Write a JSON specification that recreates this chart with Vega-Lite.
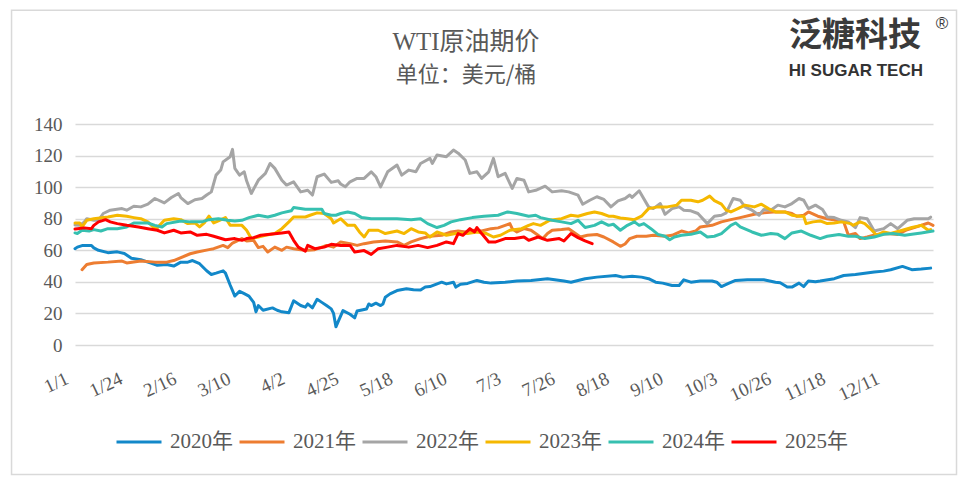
{
"$schema":"https://vega.github.io/schema/vega-lite/v6.json",
"width":858,"height":221,
"padding":{"left":10,"top":9,"right":12,"bottom":13},
"background":"white",
"config":{"view":{"stroke":null},"font":"Liberation Serif"},
"title":{"text":"WTI原油期价","subtitle":"单位：美元/桶","anchor":"middle","frame":"group","dx":-38,"offset":-76,"font":"Liberation Serif, Noto Sans CJK SC","fontSize":25,"fontWeight":"normal","color":"#595959","subtitleFont":"Noto Sans CJK SC","subtitleFontSize":22,"subtitleColor":"#595959","subtitlePadding":10},
"data":{"values":[
{"s":"2020年","d":0,"v":61},{"s":"2020年","d":1,"v":62},{"s":"2020年","d":3,"v":63},{"s":"2020年","d":7,"v":63},{"s":"2020年","d":8,"v":61.5},{"s":"2020年","d":10,"v":60},{"s":"2020年","d":14,"v":58.5},{"s":"2020年","d":18,"v":59},{"s":"2020年","d":21,"v":58},{"s":"2020年","d":24,"v":55},{"s":"2020年","d":28,"v":54},{"s":"2020年","d":32,"v":52},{"s":"2020年","d":35,"v":50.5},{"s":"2020年","d":39,"v":51},{"s":"2020年","d":42,"v":50},{"s":"2020年","d":45,"v":52.5},{"s":"2020年","d":48,"v":52.5},{"s":"2020年","d":50,"v":53.5},{"s":"2020年","d":53,"v":51.5},{"s":"2020年","d":56,"v":47},{"s":"2020年","d":58,"v":44.7},{"s":"2020年","d":60,"v":45.5},{"s":"2020年","d":63,"v":47},{"s":"2020年","d":64,"v":45.5},{"s":"2020年","d":66,"v":38},{"s":"2020年","d":68,"v":31},{"s":"2020年","d":70,"v":34},{"s":"2020年","d":72,"v":32.5},{"s":"2020年","d":74,"v":31},{"s":"2020年","d":76,"v":27},{"s":"2020年","d":77,"v":21},{"s":"2020年","d":78,"v":25},{"s":"2020年","d":80,"v":22},{"s":"2020年","d":84,"v":23.5},{"s":"2020年","d":86,"v":22},{"s":"2020年","d":88,"v":21},{"s":"2020年","d":91,"v":20.5},{"s":"2020年","d":93,"v":28},{"s":"2020年","d":96,"v":25},{"s":"2020年","d":98,"v":24},{"s":"2020年","d":99,"v":26},{"s":"2020年","d":101,"v":23.5},{"s":"2020年","d":103,"v":29},{"s":"2020年","d":105,"v":27},{"s":"2020年","d":107,"v":25},{"s":"2020年","d":109,"v":22.9},{"s":"2020年","d":110,"v":20},{"s":"2020年","d":111,"v":11.5},{"s":"2020年","d":112,"v":15},{"s":"2020年","d":114,"v":21.8},{"s":"2020年","d":117,"v":19.5},{"s":"2020年","d":119,"v":17.2},{"s":"2020年","d":120,"v":21.5},{"s":"2020年","d":122,"v":22.2},{"s":"2020年","d":124,"v":22.8},{"s":"2020年","d":125,"v":26},{"s":"2020年","d":126,"v":25},{"s":"2020年","d":128,"v":26.5},{"s":"2020年","d":130,"v":25},{"s":"2020年","d":131,"v":26},{"s":"2020年","d":132,"v":30.3},{"s":"2020年","d":134,"v":32.4},{"s":"2020年","d":137,"v":34.5},{"s":"2020年","d":141,"v":35.6},{"s":"2020年","d":144,"v":35},{"s":"2020年","d":147,"v":34.8},{"s":"2020年","d":149,"v":36.7},{"s":"2020年","d":151,"v":37},{"s":"2020年","d":156,"v":39.8},{"s":"2020年","d":158,"v":38.7},{"s":"2020年","d":161,"v":39.8},{"s":"2020年","d":162,"v":36.7},{"s":"2020年","d":164,"v":38.5},{"s":"2020年","d":167,"v":39},{"s":"2020年","d":171,"v":40.9},{"s":"2020年","d":174,"v":39.8},{"s":"2020年","d":177,"v":39.2},{"s":"2020年","d":183,"v":39.8},{"s":"2020年","d":188,"v":40.5},{"s":"2020年","d":194,"v":40.9},{"s":"2020年","d":201,"v":42},{"s":"2020年","d":208,"v":40.5},{"s":"2020年","d":211,"v":39.8},{"s":"2020年","d":217,"v":42},{"s":"2020年","d":222,"v":43},{"s":"2020年","d":230,"v":44},{"s":"2020年","d":233,"v":43},{"s":"2020年","d":237,"v":43.5},{"s":"2020年","d":241,"v":43},{"s":"2020年","d":244,"v":42},{"s":"2020年","d":247,"v":39.8},{"s":"2020年","d":250,"v":39.2},{"s":"2020年","d":254,"v":37.7},{"s":"2020年","d":257,"v":37.7},{"s":"2020年","d":259,"v":41.3},{"s":"2020年","d":262,"v":39.8},{"s":"2020年","d":266,"v":40.5},{"s":"2020年","d":271,"v":40.5},{"s":"2020年","d":273,"v":39.8},{"s":"2020年","d":275,"v":37},{"s":"2020年","d":278,"v":39},{"s":"2020年","d":281,"v":40.9},{"s":"2020年","d":286,"v":41.3},{"s":"2020年","d":293,"v":41.3},{"s":"2020年","d":298,"v":39.8},{"s":"2020年","d":300,"v":39.4},{"s":"2020年","d":303,"v":36.7},{"s":"2020年","d":305,"v":36.7},{"s":"2020年","d":308,"v":39.2},{"s":"2020年","d":310,"v":37},{"s":"2020年","d":312,"v":40.5},{"s":"2020年","d":315,"v":40.1},{"s":"2020年","d":317,"v":40.5},{"s":"2020年","d":323,"v":42},{"s":"2020年","d":327,"v":44},{"s":"2020年","d":332,"v":44.7},{"s":"2020年","d":336,"v":45.5},{"s":"2020年","d":340,"v":46.2},{"s":"2020年","d":344,"v":46.8},{"s":"2020年","d":347,"v":47.7},{"s":"2020年","d":352,"v":49.8},{"s":"2020年","d":356,"v":47.7},{"s":"2020年","d":360,"v":48.1},{"s":"2020年","d":364,"v":48.7},
{"s":"2021年","d":3,"v":47.7},{"s":"2021年","d":5,"v":51},{"s":"2021年","d":8,"v":52},{"s":"2021年","d":14,"v":52.5},{"s":"2021年","d":20,"v":53.2},{"s":"2021年","d":22,"v":52},{"s":"2021年","d":28,"v":53.2},{"s":"2021年","d":34,"v":52.5},{"s":"2021年","d":39,"v":52.5},{"s":"2021年","d":42,"v":53.5},{"s":"2021年","d":49,"v":57.8},{"s":"2021年","d":52,"v":58.9},{"s":"2021年","d":57,"v":60.4},{"s":"2021年","d":59,"v":61},{"s":"2021年","d":63,"v":63.1},{"s":"2021年","d":65,"v":61.7},{"s":"2021年","d":67,"v":64.6},{"s":"2021年","d":71,"v":67.4},{"s":"2021年","d":73,"v":65.9},{"s":"2021年","d":76,"v":66.3},{"s":"2021年","d":78,"v":61.7},{"s":"2021年","d":80,"v":62.5},{"s":"2021年","d":82,"v":58.9},{"s":"2021年","d":85,"v":62},{"s":"2021年","d":88,"v":60},{"s":"2021年","d":90,"v":62},{"s":"2021年","d":93,"v":61},{"s":"2021年","d":96,"v":60.4},{"s":"2021年","d":99,"v":60},{"s":"2021年","d":102,"v":60.4},{"s":"2021年","d":105,"v":62},{"s":"2021年","d":107,"v":63.1},{"s":"2021年","d":110,"v":62},{"s":"2021年","d":113,"v":65.3},{"s":"2021年","d":117,"v":64.2},{"s":"2021年","d":120,"v":63.1},{"s":"2021年","d":123,"v":64.2},{"s":"2021年","d":127,"v":65.3},{"s":"2021年","d":132,"v":65.9},{"s":"2021年","d":137,"v":65.3},{"s":"2021年","d":140,"v":63.1},{"s":"2021年","d":143,"v":65.3},{"s":"2021年","d":147,"v":67.4},{"s":"2021年","d":151,"v":68.9},{"s":"2021年","d":156,"v":69.5},{"s":"2021年","d":160,"v":71.6},{"s":"2021年","d":163,"v":72.2},{"s":"2021年","d":166,"v":71.6},{"s":"2021年","d":170,"v":72.7},{"s":"2021年","d":173,"v":72.2},{"s":"2021年","d":177,"v":73.7},{"s":"2021年","d":180,"v":74.2},{"s":"2021年","d":183,"v":75.8},{"s":"2021年","d":185,"v":76.9},{"s":"2021年","d":186,"v":73.7},{"s":"2021年","d":188,"v":71.6},{"s":"2021年","d":191,"v":73.7},{"s":"2021年","d":194,"v":72.7},{"s":"2021年","d":197,"v":69.5},{"s":"2021年","d":199,"v":67.4},{"s":"2021年","d":201,"v":70.6},{"s":"2021年","d":203,"v":72.7},{"s":"2021年","d":207,"v":73.1},{"s":"2021年","d":210,"v":73.7},{"s":"2021年","d":212,"v":71.6},{"s":"2021年","d":215,"v":68.4},{"s":"2021年","d":218,"v":69.5},{"s":"2021年","d":222,"v":70},{"s":"2021年","d":225,"v":68.4},{"s":"2021年","d":229,"v":65.3},{"s":"2021年","d":232,"v":62.5},{"s":"2021年","d":234,"v":64},{"s":"2021年","d":236,"v":67.4},{"s":"2021年","d":239,"v":68.9},{"s":"2021年","d":243,"v":68.9},{"s":"2021年","d":246,"v":69.5},{"s":"2021年","d":251,"v":68.9},{"s":"2021年","d":254,"v":69.5},{"s":"2021年","d":258,"v":72.2},{"s":"2021年","d":261,"v":71},{"s":"2021年","d":264,"v":72.2},{"s":"2021年","d":266,"v":74.8},{"s":"2021年","d":271,"v":75.8},{"s":"2021年","d":275,"v":78},{"s":"2021年","d":279,"v":79.4},{"s":"2021年","d":283,"v":80.7},{"s":"2021年","d":289,"v":82.8},{"s":"2021年","d":293,"v":83.7},{"s":"2021年","d":297,"v":84.3},{"s":"2021年","d":302,"v":84.3},{"s":"2021年","d":305,"v":83.3},{"s":"2021年","d":307,"v":81.6},{"s":"2021年","d":310,"v":82.2},{"s":"2021年","d":312,"v":84.3},{"s":"2021年","d":316,"v":81.6},{"s":"2021年","d":320,"v":80},{"s":"2021年","d":324,"v":79},{"s":"2021年","d":327,"v":78},{"s":"2021年","d":329,"v":69.5},{"s":"2021年","d":332,"v":70.6},{"s":"2021年","d":334,"v":67.4},{"s":"2021年","d":337,"v":68.4},{"s":"2021年","d":341,"v":70},{"s":"2021年","d":346,"v":70.6},{"s":"2021年","d":350,"v":70},{"s":"2021年","d":354,"v":73},{"s":"2021年","d":358,"v":74.8},{"s":"2021年","d":363,"v":77.3},{"s":"2021年","d":365,"v":75.8},
{"s":"2022年","d":0,"v":76},{"s":"2022年","d":2,"v":75.8},{"s":"2022年","d":4,"v":78},{"s":"2022年","d":5,"v":80},{"s":"2022年","d":8,"v":79},{"s":"2022年","d":10,"v":79},{"s":"2022年","d":12,"v":83.3},{"s":"2022年","d":15,"v":85.4},{"s":"2022年","d":20,"v":86.4},{"s":"2022年","d":22,"v":85.4},{"s":"2022年","d":25,"v":87.9},{"s":"2022年","d":28,"v":87.5},{"s":"2022年","d":31,"v":89.2},{"s":"2022年","d":34,"v":92.8},{"s":"2022年","d":38,"v":90},{"s":"2022年","d":41,"v":93.4},{"s":"2022年","d":44,"v":96},{"s":"2022年","d":45,"v":93.4},{"s":"2022年","d":48,"v":89.6},{"s":"2022年","d":51,"v":92},{"s":"2022年","d":54,"v":92.8},{"s":"2022年","d":56,"v":95},{"s":"2022年","d":58,"v":97},{"s":"2022年","d":60,"v":107.6},{"s":"2022年","d":62,"v":110.8},{"s":"2022年","d":63,"v":116},{"s":"2022年","d":66,"v":119.3},{"s":"2022年","d":67,"v":123.9},{"s":"2022年","d":68,"v":111.9},{"s":"2022年","d":70,"v":107.6},{"s":"2022年","d":72,"v":109.7},{"s":"2022年","d":73,"v":104},{"s":"2022年","d":75,"v":96},{"s":"2022年","d":78,"v":104.4},{"s":"2022年","d":81,"v":108.7},{"s":"2022年","d":83,"v":115},{"s":"2022年","d":85,"v":111.9},{"s":"2022年","d":88,"v":104.4},{"s":"2022年","d":90,"v":101.3},{"s":"2022年","d":93,"v":103.4},{"s":"2022年","d":96,"v":97},{"s":"2022年","d":99,"v":98},{"s":"2022年","d":101,"v":95},{"s":"2022年","d":103,"v":106.6},{"s":"2022年","d":106,"v":108.3},{"s":"2022年","d":109,"v":103},{"s":"2022年","d":112,"v":104},{"s":"2022年","d":113,"v":102},{"s":"2022年","d":115,"v":100.2},{"s":"2022年","d":117,"v":103.4},{"s":"2022年","d":120,"v":105.5},{"s":"2022年","d":123,"v":105.5},{"s":"2022年","d":126,"v":109.7},{"s":"2022年","d":128,"v":106.6},{"s":"2022年","d":130,"v":100.2},{"s":"2022年","d":133,"v":109.7},{"s":"2022年","d":137,"v":114},{"s":"2022年","d":139,"v":107.6},{"s":"2022年","d":142,"v":110.8},{"s":"2022年","d":145,"v":109.7},{"s":"2022年","d":147,"v":115},{"s":"2022年","d":151,"v":118.2},{"s":"2022年","d":152,"v":115},{"s":"2022年","d":154,"v":120.3},{"s":"2022年","d":158,"v":119.3},{"s":"2022年","d":161,"v":123.5},{"s":"2022年","d":163,"v":121.5},{"s":"2022年","d":166,"v":117.2},{"s":"2022年","d":168,"v":108.7},{"s":"2022年","d":171,"v":109.7},{"s":"2022年","d":173,"v":105.5},{"s":"2022年","d":176,"v":109.7},{"s":"2022年","d":178,"v":118.2},{"s":"2022年","d":180,"v":106.6},{"s":"2022年","d":183,"v":108.7},{"s":"2022年","d":186,"v":99.2},{"s":"2022年","d":188,"v":105.5},{"s":"2022年","d":191,"v":104.4},{"s":"2022年","d":193,"v":97},{"s":"2022年","d":196,"v":98},{"s":"2022年","d":200,"v":100.6},{"s":"2022年","d":203,"v":97},{"s":"2022年","d":207,"v":97.7},{"s":"2022年","d":210,"v":97},{"s":"2022年","d":214,"v":94.9},{"s":"2022年","d":216,"v":89.2},{"s":"2022年","d":219,"v":91.7},{"s":"2022年","d":222,"v":93.9},{"s":"2022年","d":225,"v":92.2},{"s":"2022年","d":228,"v":87.5},{"s":"2022年","d":231,"v":91.3},{"s":"2022年","d":234,"v":92.8},{"s":"2022年","d":236,"v":95},{"s":"2022年","d":237,"v":93.5},{"s":"2022年","d":240,"v":97.7},{"s":"2022年","d":244,"v":87.5},{"s":"2022年","d":246,"v":86.4},{"s":"2022年","d":249,"v":89.6},{"s":"2022年","d":251,"v":82.8},{"s":"2022年","d":254,"v":86.4},{"s":"2022年","d":257,"v":87.5},{"s":"2022年","d":259,"v":85.4},{"s":"2022年","d":262,"v":85},{"s":"2022年","d":265,"v":83.3},{"s":"2022年","d":269,"v":76.9},{"s":"2022年","d":272,"v":81.6},{"s":"2022年","d":275,"v":82.2},{"s":"2022年","d":277,"v":83.7},{"s":"2022年","d":280,"v":92.8},{"s":"2022年","d":283,"v":91.7},{"s":"2022年","d":285,"v":87.5},{"s":"2022年","d":288,"v":85.4},{"s":"2022年","d":291,"v":82.2},{"s":"2022年","d":293,"v":85.8},{"s":"2022年","d":296,"v":85.4},{"s":"2022年","d":299,"v":88.6},{"s":"2022年","d":302,"v":87.5},{"s":"2022年","d":305,"v":89.6},{"s":"2022年","d":308,"v":92.8},{"s":"2022年","d":310,"v":91.7},{"s":"2022年","d":312,"v":86.4},{"s":"2022年","d":315,"v":88.6},{"s":"2022年","d":318,"v":85.8},{"s":"2022年","d":320,"v":81.1},{"s":"2022年","d":323,"v":80.7},{"s":"2022年","d":326,"v":79},{"s":"2022年","d":329,"v":78},{"s":"2022年","d":332,"v":74.4},{"s":"2022年","d":334,"v":80.7},{"s":"2022年","d":337,"v":80},{"s":"2022年","d":340,"v":72.2},{"s":"2022年","d":344,"v":73.7},{"s":"2022年","d":347,"v":76.9},{"s":"2022年","d":350,"v":73.7},{"s":"2022年","d":354,"v":79},{"s":"2022年","d":357,"v":80},{"s":"2022年","d":363,"v":80},{"s":"2022年","d":364,"v":81},
{"s":"2023年","d":0,"v":77.3},{"s":"2023年","d":2,"v":77.3},{"s":"2023年","d":3,"v":74.8},{"s":"2023年","d":5,"v":79},{"s":"2023年","d":8,"v":80},{"s":"2023年","d":14,"v":81.1},{"s":"2023年","d":18,"v":82.2},{"s":"2023年","d":22,"v":81.5},{"s":"2023年","d":25,"v":80.7},{"s":"2023年","d":28,"v":80},{"s":"2023年","d":31,"v":78},{"s":"2023年","d":34,"v":73.7},{"s":"2023年","d":35,"v":74.2},{"s":"2023年","d":38,"v":79},{"s":"2023年","d":42,"v":80},{"s":"2023年","d":45,"v":79.4},{"s":"2023年","d":48,"v":76.9},{"s":"2023年","d":51,"v":77.3},{"s":"2023年","d":53,"v":74.8},{"s":"2023年","d":55,"v":77.3},{"s":"2023年","d":57,"v":81.6},{"s":"2023年","d":59,"v":77.3},{"s":"2023年","d":61,"v":78.6},{"s":"2023年","d":64,"v":80.7},{"s":"2023年","d":66,"v":75.8},{"s":"2023年","d":71,"v":75.8},{"s":"2023年","d":73,"v":72.7},{"s":"2023年","d":75,"v":67.4},{"s":"2023年","d":78,"v":68.4},{"s":"2023年","d":81,"v":69.5},{"s":"2023年","d":85,"v":70.6},{"s":"2023年","d":88,"v":73.7},{"s":"2023年","d":91,"v":78},{"s":"2023年","d":93,"v":81.1},{"s":"2023年","d":98,"v":81.1},{"s":"2023年","d":100,"v":82.2},{"s":"2023年","d":103,"v":83.7},{"s":"2023年","d":106,"v":83.3},{"s":"2023年","d":109,"v":80},{"s":"2023年","d":110,"v":77.3},{"s":"2023年","d":113,"v":80},{"s":"2023年","d":116,"v":75.8},{"s":"2023年","d":119,"v":75.8},{"s":"2023年","d":121,"v":71.6},{"s":"2023年","d":123,"v":68.4},{"s":"2023年","d":125,"v":72.7},{"s":"2023年","d":129,"v":72.7},{"s":"2023年","d":132,"v":70.6},{"s":"2023年","d":135,"v":71.6},{"s":"2023年","d":137,"v":72.2},{"s":"2023年","d":140,"v":70.6},{"s":"2023年","d":143,"v":73.7},{"s":"2023年","d":146,"v":71.6},{"s":"2023年","d":149,"v":71},{"s":"2023年","d":151,"v":68.4},{"s":"2023年","d":154,"v":71.6},{"s":"2023年","d":158,"v":69.5},{"s":"2023年","d":163,"v":71},{"s":"2023年","d":167,"v":70.6},{"s":"2023年","d":171,"v":71.6},{"s":"2023年","d":175,"v":70.6},{"s":"2023年","d":178,"v":68.4},{"s":"2023年","d":181,"v":69.5},{"s":"2023年","d":185,"v":72.7},{"s":"2023年","d":190,"v":73.7},{"s":"2023年","d":193,"v":75.8},{"s":"2023年","d":195,"v":76.9},{"s":"2023年","d":198,"v":75.8},{"s":"2023年","d":202,"v":79},{"s":"2023年","d":207,"v":80},{"s":"2023年","d":211,"v":82.2},{"s":"2023年","d":214,"v":81.6},{"s":"2023年","d":218,"v":83.3},{"s":"2023年","d":221,"v":84.3},{"s":"2023年","d":224,"v":83.3},{"s":"2023年","d":227,"v":81.6},{"s":"2023年","d":229,"v":81.6},{"s":"2023年","d":232,"v":80.5},{"s":"2023年","d":235,"v":80},{"s":"2023年","d":238,"v":79.4},{"s":"2023年","d":241,"v":81.6},{"s":"2023年","d":244,"v":86.4},{"s":"2023年","d":248,"v":87.5},{"s":"2023年","d":252,"v":87.5},{"s":"2023年","d":256,"v":88.6},{"s":"2023年","d":258,"v":91.7},{"s":"2023年","d":262,"v":91.7},{"s":"2023年","d":265,"v":90.7},{"s":"2023年","d":267,"v":91.7},{"s":"2023年","d":270,"v":94.3},{"s":"2023年","d":272,"v":91.5},{"s":"2023年","d":275,"v":89.2},{"s":"2023年","d":277,"v":85.4},{"s":"2023年","d":279,"v":84.3},{"s":"2023年","d":282,"v":86.4},{"s":"2023年","d":285,"v":88.6},{"s":"2023年","d":289,"v":87.5},{"s":"2023年","d":292,"v":89.2},{"s":"2023年","d":295,"v":86.4},{"s":"2023年","d":298,"v":84.3},{"s":"2023年","d":302,"v":84.3},{"s":"2023年","d":305,"v":82.2},{"s":"2023年","d":308,"v":81.6},{"s":"2023年","d":310,"v":81.6},{"s":"2023年","d":311,"v":76.9},{"s":"2023年","d":314,"v":78},{"s":"2023年","d":317,"v":78.6},{"s":"2023年","d":320,"v":76.9},{"s":"2023年","d":323,"v":77.3},{"s":"2023年","d":326,"v":78},{"s":"2023年","d":330,"v":76.9},{"s":"2023年","d":331,"v":75.8},{"s":"2023年","d":334,"v":78},{"s":"2023年","d":336,"v":76.9},{"s":"2023年","d":339,"v":72.7},{"s":"2023年","d":341,"v":69.5},{"s":"2023年","d":344,"v":71.6},{"s":"2023年","d":347,"v":70.6},{"s":"2023年","d":352,"v":72.7},{"s":"2023年","d":356,"v":74.4},{"s":"2023年","d":360,"v":75.8},{"s":"2023年","d":363,"v":72.7},{"s":"2023年","d":364,"v":73.1},
{"s":"2024年","d":0,"v":71},{"s":"2024年","d":1,"v":70.6},{"s":"2024年","d":3,"v":72.7},{"s":"2024年","d":6,"v":72.2},{"s":"2024年","d":8,"v":73.1},{"s":"2024年","d":11,"v":72.2},{"s":"2024年","d":14,"v":73.7},{"s":"2024年","d":18,"v":73.7},{"s":"2024年","d":22,"v":74.8},{"s":"2024年","d":25,"v":77.3},{"s":"2024年","d":31,"v":77.3},{"s":"2024年","d":34,"v":75.8},{"s":"2024年","d":37,"v":74.8},{"s":"2024年","d":39,"v":76.9},{"s":"2024年","d":45,"v":78.6},{"s":"2024年","d":49,"v":78},{"s":"2024年","d":54,"v":78},{"s":"2024年","d":57,"v":79.4},{"s":"2024年","d":61,"v":80},{"s":"2024年","d":65,"v":79},{"s":"2024年","d":68,"v":78.6},{"s":"2024年","d":71,"v":79},{"s":"2024年","d":74,"v":80.7},{"s":"2024年","d":78,"v":82.2},{"s":"2024年","d":82,"v":81.1},{"s":"2024年","d":85,"v":82.2},{"s":"2024年","d":88,"v":83.7},{"s":"2024年","d":92,"v":85},{"s":"2024年","d":93,"v":87.1},{"s":"2024年","d":98,"v":86},{"s":"2024年","d":101,"v":86},{"s":"2024年","d":105,"v":86},{"s":"2024年","d":106,"v":83.3},{"s":"2024年","d":109,"v":82.2},{"s":"2024年","d":111,"v":82.2},{"s":"2024年","d":113,"v":83.3},{"s":"2024年","d":116,"v":84.3},{"s":"2024年","d":119,"v":83.3},{"s":"2024年","d":122,"v":80.7},{"s":"2024年","d":126,"v":80},{"s":"2024年","d":132,"v":80},{"s":"2024年","d":137,"v":80},{"s":"2024年","d":143,"v":79.4},{"s":"2024年","d":147,"v":80},{"s":"2024年","d":150,"v":76.9},{"s":"2024年","d":154,"v":74.4},{"s":"2024年","d":157,"v":75.8},{"s":"2024年","d":160,"v":78},{"s":"2024年","d":164,"v":79.4},{"s":"2024年","d":169,"v":80.7},{"s":"2024年","d":174,"v":81.6},{"s":"2024年","d":180,"v":82.2},{"s":"2024年","d":184,"v":84.3},{"s":"2024年","d":188,"v":83.3},{"s":"2024年","d":193,"v":81.6},{"s":"2024年","d":196,"v":82.2},{"s":"2024年","d":198,"v":80.7},{"s":"2024年","d":203,"v":79},{"s":"2024年","d":207,"v":78},{"s":"2024年","d":211,"v":76.9},{"s":"2024年","d":214,"v":79},{"s":"2024年","d":217,"v":74.4},{"s":"2024年","d":221,"v":75.8},{"s":"2024年","d":224,"v":78},{"s":"2024年","d":227,"v":75.8},{"s":"2024年","d":229,"v":76.5},{"s":"2024年","d":232,"v":72.7},{"s":"2024年","d":235,"v":75.8},{"s":"2024年","d":238,"v":78},{"s":"2024年","d":240,"v":75.8},{"s":"2024年","d":242,"v":76.9},{"s":"2024年","d":245,"v":73.7},{"s":"2024年","d":248,"v":70.1},{"s":"2024年","d":251,"v":68.9},{"s":"2024年","d":253,"v":66.7},{"s":"2024年","d":255,"v":68.4},{"s":"2024年","d":258,"v":69.5},{"s":"2024年","d":262,"v":70.1},{"s":"2024年","d":266,"v":71.6},{"s":"2024年","d":269,"v":68.4},{"s":"2024年","d":272,"v":68.9},{"s":"2024年","d":275,"v":70.6},{"s":"2024年","d":279,"v":75.8},{"s":"2024年","d":281,"v":77.3},{"s":"2024年","d":283,"v":74.8},{"s":"2024年","d":288,"v":71.6},{"s":"2024年","d":292,"v":69.5},{"s":"2024年","d":296,"v":70.6},{"s":"2024年","d":299,"v":70.1},{"s":"2024年","d":302,"v":67.4},{"s":"2024年","d":305,"v":71},{"s":"2024年","d":309,"v":72.2},{"s":"2024年","d":313,"v":69.5},{"s":"2024年","d":317,"v":67.4},{"s":"2024年","d":320,"v":68.9},{"s":"2024年","d":325,"v":70},{"s":"2024年","d":329,"v":68.9},{"s":"2024年","d":332,"v":68.9},{"s":"2024年","d":336,"v":67.4},{"s":"2024年","d":340,"v":68.4},{"s":"2024年","d":344,"v":70.1},{"s":"2024年","d":348,"v":70.6},{"s":"2024年","d":353,"v":69.5},{"s":"2024年","d":356,"v":70.1},{"s":"2024年","d":360,"v":71},{"s":"2024年","d":365,"v":72.2},
{"s":"2025年","d":0,"v":73.5},{"s":"2025年","d":1,"v":73.7},{"s":"2025年","d":4,"v":74.2},{"s":"2025年","d":7,"v":73.7},{"s":"2025年","d":8,"v":75.8},{"s":"2025年","d":10,"v":78},{"s":"2025年","d":13,"v":79.4},{"s":"2025年","d":15,"v":78},{"s":"2025年","d":18,"v":76.9},{"s":"2025年","d":22,"v":75.8},{"s":"2025年","d":27,"v":74.8},{"s":"2025年","d":31,"v":73.7},{"s":"2025年","d":35,"v":72.7},{"s":"2025年","d":38,"v":71},{"s":"2025年","d":42,"v":72.7},{"s":"2025年","d":45,"v":71},{"s":"2025年","d":49,"v":71.6},{"s":"2025年","d":52,"v":69.5},{"s":"2025年","d":56,"v":70.1},{"s":"2025年","d":59,"v":68.9},{"s":"2025年","d":64,"v":66.7},{"s":"2025年","d":68,"v":67.4},{"s":"2025年","d":71,"v":66.3},{"s":"2025年","d":73,"v":67.4},{"s":"2025年","d":76,"v":68},{"s":"2025年","d":79,"v":69.5},{"s":"2025年","d":83,"v":70.1},{"s":"2025年","d":88,"v":71},{"s":"2025年","d":91,"v":71.6},{"s":"2025年","d":93,"v":66.3},{"s":"2025年","d":95,"v":62},{"s":"2025年","d":98,"v":59.5},{"s":"2025年","d":99,"v":63.1},{"s":"2025年","d":102,"v":61},{"s":"2025年","d":106,"v":62},{"s":"2025年","d":109,"v":63.8},{"s":"2025年","d":113,"v":63.1},{"s":"2025年","d":117,"v":63.1},{"s":"2025年","d":119,"v":58.9},{"s":"2025年","d":123,"v":59.8},{"s":"2025年","d":126,"v":57.4},{"s":"2025年","d":129,"v":61},{"s":"2025年","d":133,"v":62},{"s":"2025年","d":137,"v":63.1},{"s":"2025年","d":142,"v":62},{"s":"2025年","d":146,"v":63.1},{"s":"2025年","d":150,"v":61.7},{"s":"2025年","d":154,"v":63.1},{"s":"2025年","d":158,"v":65.3},{"s":"2025年","d":161,"v":64.2},{"s":"2025年","d":163,"v":70.6},{"s":"2025年","d":165,"v":69.5},{"s":"2025年","d":168,"v":73.7},{"s":"2025年","d":170,"v":71.6},{"s":"2025年","d":171,"v":74.4},{"s":"2025年","d":173,"v":70.6},{"s":"2025年","d":176,"v":65.3},{"s":"2025年","d":179,"v":65.3},{"s":"2025年","d":183,"v":67.4},{"s":"2025年","d":187,"v":67.4},{"s":"2025年","d":191,"v":68.4},{"s":"2025年","d":193,"v":66.3},{"s":"2025年","d":197,"v":68.4},{"s":"2025年","d":201,"v":66.3},{"s":"2025年","d":206,"v":67.4},{"s":"2025年","d":208,"v":65.9},{"s":"2025年","d":211,"v":70.6},{"s":"2025年","d":214,"v":68},{"s":"2025年","d":217,"v":65.9},{"s":"2025年","d":220,"v":64.2}
]},
"layer":[
{"mark":{"type":"line","strokeJoin":"round","strokeCap":"round"},
 "encoding":{
  "x":{"field":"d","type":"quantitative","scale":{"domain":[0,365],"nice":false,"zero":false},
   "axis":{"title":null,"values":[0,23,46,69,92,115,138,161,184,207,230,253,276,299,322,345],
    "labelExpr":"['1/1','1/24','2/16','3/10','4/2','4/25','5/18','6/10','7/3','7/26','8/18','9/10','10/3','10/26','11/18','12/11'][round(datum.value/23)]",
    "labelAngle":-25,"labelAlign":"right","labelBaseline":"top","labelPadding":24,"labelOffset":-12,"labelFont":"Liberation Serif","labelFontSize":19,"labelColor":"#595959","grid":false,"domain":false,"ticks":false,"labelOverlap":false,"labelFlush":false}},
  "y":{"field":"v","type":"quantitative","scale":{"domain":[0,140],"nice":false},
   "axis":{"title":null,"values":[0,20,40,60,80,100,120,140],"tickCount":8,"grid":true,"gridColor":"#d9d9d9","gridWidth":1.5,"domain":false,"ticks":false,"labelPadding":13,"labelOverlap":false,"labelFont":"Liberation Serif","labelFontSize":19,"labelColor":"#595959"}},
  "color":{"field":"s","type":"nominal","scale":{"domain":["2020年","2021年","2022年","2023年","2024年","2025年"],"range":["#1288c9","#ed7d31","#a5a5a5","#f5b800","#36c0b0","#ff0000"]},
   "legend":{"title":null,"orient":"none","legendX":40,"legendY":294,"direction":"horizontal","symbolType":"stroke","symbolSize":2025,"symbolStrokeWidth":4,"labelFont":"Liberation Serif, Noto Sans CJK SC","labelFontSize":21,"labelColor":"#595959","labelOffset":7,"columnPadding":0,"padding":0}},
  "strokeWidth":{"field":"s","type":"nominal","scale":{"domain":["2020年","2021年","2022年","2023年","2024年","2025年"],"range":[3,3,3,3,3,4.5]},"legend":null}
 }},
{"data":{"values":[{}]},
 "mark":{"type":"rect","fill":null,"stroke":"#d9d9d9","strokeWidth":1.5,"clip":false},
 "encoding":{"x":{"datum":-27,"type":"quantitative"},"x2":{"datum":375},"y":{"datum":212,"type":"quantitative","axis":{"values":[0,20,40,60,80,100,120,140],"tickCount":8}},"y2":{"datum":-82}}},
{"data":{"values":[{}]},
 "mark":{"type":"text","text":"泛糖科技","font":"Noto Sans CJK SC","fontWeight":"bold","fontSize":33,"color":"#3a3a3a","align":"center","baseline":"middle"},
 "encoding":{"x":{"datum":331.8,"type":"quantitative"},"y":{"datum":195.7,"type":"quantitative"}}},
{"data":{"values":[{}]},
 "mark":{"type":"text","text":"®","font":"Liberation Sans","fontSize":17,"color":"#3a3a3a","align":"center","baseline":"middle"},
 "encoding":{"x":{"datum":368.8,"type":"quantitative"},"y":{"datum":203.5,"type":"quantitative"}}},
{"data":{"values":[{}]},
 "mark":{"type":"text","text":"HI SUGAR TECH","font":"Liberation Sans","fontWeight":"bold","fontSize":17,"color":"#333333","align":"center","baseline":"middle"},
 "encoding":{"x":{"datum":332.2,"type":"quantitative"},"y":{"datum":173.6,"type":"quantitative"}}}
]
}
